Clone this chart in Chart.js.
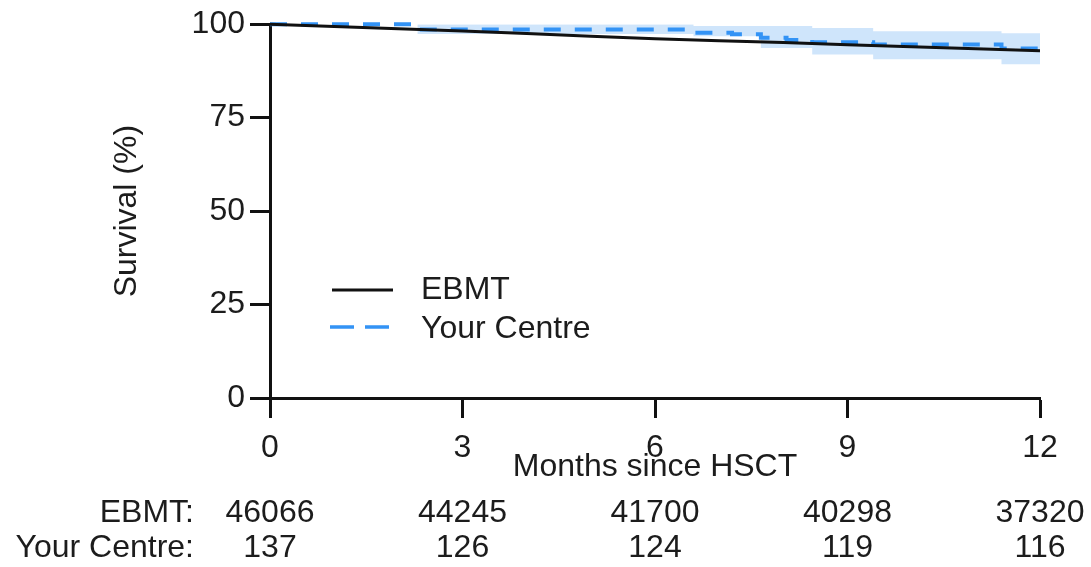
<!DOCTYPE html>
<html>
<head>
<meta charset="utf-8">
<script src="https://cdn.jsdelivr.net/npm/chart.js@4/dist/chart.umd.min.js"></script>
<style>
  html, body { margin: 0; padding: 0; background: #ffffff; }
  #wrap { width: 1091px; height: 567px; }
</style>
</head>
<body>
<div id="wrap"><canvas id="c" width="1091" height="567"></canvas></div>
<script>
// ---- data ----
const xTicks = [0, 3, 6, 9, 12];
const yTicks = [0, 25, 50, 75, 100];
const seriesNames = ['EBMT', 'Your Centre'];

const ebmtMonths = [0, 1, 2, 3, 4, 5, 6, 7, 8, 9, 10, 11, 12];
const ebmtSurv   = [100, 99.4, 98.8, 98.2, 97.5, 96.8, 96.1, 95.6, 95.1, 94.5, 94.0, 93.4, 92.9];

const centreMonths = [0, 2.3, 6.6, 7.2, 7.65, 8.05, 8.45, 9.4, 11.4, 12];
const centreSurv   = [100, 98.6, 97.7, 97.3, 96.4, 95.8, 95.2, 94.6, 93.5, 93.0];
const centreUpper  = [100, 100, 99.5, 99.5, 99.5, 99.5, 99.0, 98.1, 97.6, 97.6];
const centreLower  = [100, 97.4, 96.8, 96.8, 93.6, 93.6, 91.9, 90.6, 89.3, 89.3];

const atRiskEbmt   = [46066, 44245, 41700, 40298, 37320];
const atRiskCentre = [137, 126, 124, 119, 116];
const atRiskLabels = ['EBMT:', 'Your Centre:'];

// ---- styles ----
const FONT = '"Liberation Sans", Arial, Helvetica, sans-serif';
const FSIZE = 32;
const TXT = '#1c1c1c';
const BLUE = '#3393f5';
const BAND = '#cfe5fb';

const pts = (xs, ys) => xs.map((x, i) => ({ x: x, y: ys[i] }));

const overlay = {
  id: 'overlay',
  afterDraw(chart) {
    const ctx = chart.ctx;
    const xs = chart.scales.x;
    ctx.save();
    // legend
    ctx.lineWidth = 3;
    ctx.strokeStyle = '#111111';
    ctx.setLineDash([]);
    ctx.beginPath(); ctx.moveTo(332, 290); ctx.lineTo(393, 290); ctx.stroke();
    ctx.strokeStyle = BLUE;
    ctx.lineWidth = 3.5;
    ctx.setLineDash([24, 11]);
    ctx.beginPath(); ctx.moveTo(330, 327); ctx.lineTo(393, 327); ctx.stroke();
    ctx.setLineDash([]);
    ctx.fillStyle = TXT;
    ctx.font = FSIZE + 'px ' + FONT;
    ctx.textBaseline = 'middle';
    ctx.textAlign = 'left';
    ctx.fillText(seriesNames[0], 421, 290);
    ctx.fillText(seriesNames[1], 421, 329);
    // at-risk table
    const rowsY = [513, 548];
    const rows = [atRiskEbmt, atRiskCentre];
    ctx.textAlign = 'right';
    ctx.fillText(atRiskLabels[0], 194, rowsY[0]);
    ctx.fillText(atRiskLabels[1], 194, rowsY[1]);
    ctx.textAlign = 'center';
    rows.forEach((r, ri) => {
      r.forEach((v, i) => {
        ctx.fillText(String(v), xs.getPixelForValue(xTicks[i]), rowsY[ri]);
      });
    });
    ctx.restore();
  }
};

new Chart(document.getElementById('c'), {
  type: 'line',
  data: {
    datasets: [
      {
        label: seriesNames[0],
        data: pts(ebmtMonths, ebmtSurv),
        borderColor: '#111111',
        borderWidth: 3,
        pointRadius: 0,
        fill: false,
        tension: 0,
        clip: false,
        order: 0
      },
      {
        label: seriesNames[1],
        data: pts(centreMonths, centreSurv),
        borderColor: BLUE,
        borderWidth: 4,
        borderDash: [17, 14],
        pointRadius: 0,
        stepped: true,
        fill: false,
        clip: false,
        order: 1
      },
      {
        label: 'upper',
        data: pts(centreMonths, centreUpper),
        borderWidth: 0,
        borderColor: 'rgba(0,0,0,0)',
        backgroundColor: BAND,
        pointRadius: 0,
        stepped: true,
        fill: '+1',
        order: 2
      },
      {
        label: 'lower',
        data: pts(centreMonths, centreLower),
        borderWidth: 0,
        borderColor: 'rgba(0,0,0,0)',
        pointRadius: 0,
        stepped: true,
        fill: false,
        order: 3
      }
    ]
  },
  options: {
    responsive: false,
    animation: false,
    devicePixelRatio: 1,
    layout: { padding: { left: 108, top: 21, right: 51, bottom: 81 } },
    plugins: {
      legend: { display: false },
      tooltip: { enabled: false },
      title: { display: false }
    },
    scales: {
      x: {
        type: 'linear',
        min: 0, max: 12,
        afterFit(s) { s.height = 88; },
        afterBuildTicks(s) { s.ticks = xTicks.map(v => ({ value: v })); },
        grid: {
          drawOnChartArea: false, drawTicks: true,
          tickLength: 20, tickColor: '#111111', tickWidth: 3
        },
        border: { display: true, color: '#111111', width: 3 },
        ticks: {
          color: TXT, padding: 11,
          font: { family: FONT, size: FSIZE },
          maxRotation: 0, autoSkip: false
        },
        title: {
          display: true, text: 'Months since HSCT', color: TXT,
          font: { family: FONT, size: FSIZE }, padding: 0
        }
      },
      y: {
        type: 'linear',
        min: 0, max: 100,
        afterFit(s) { s.width = 162; },
        afterBuildTicks(s) { s.ticks = yTicks.map(v => ({ value: v })); },
        grid: {
          drawOnChartArea: false, drawTicks: true,
          tickLength: 20, tickColor: '#111111', tickWidth: 3
        },
        border: { display: true, color: '#111111', width: 3 },
        ticks: {
          color: TXT, padding: 5,
          font: { family: FONT, size: FSIZE },
          autoSkip: false
        },
        title: {
          display: true, text: 'Survival (%)', color: TXT,
          font: { family: FONT, size: FSIZE }, padding: 0
        }
      }
    }
  },
  plugins: [overlay]
});
</script>
</body>
</html>
